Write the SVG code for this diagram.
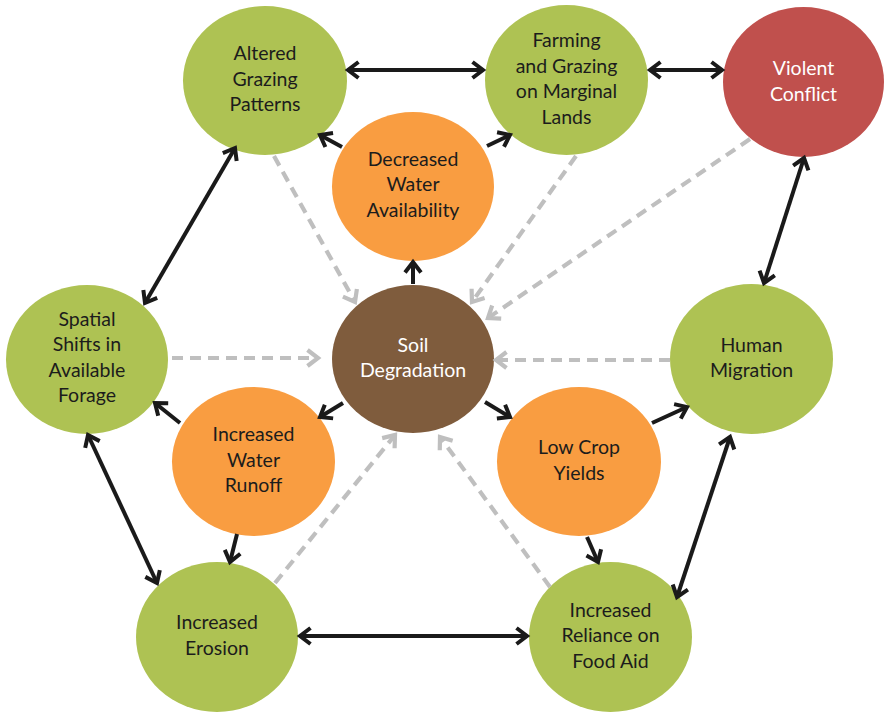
<svg xmlns="http://www.w3.org/2000/svg" width="884" height="712" viewBox="0 0 884 712">
<defs>
<style>
.g{fill:#aec253}
.o{fill:#f99d41}
.b{fill:#7f5c3d}
.r{fill:#c0504d}
text{font-family:Lato,"Liberation Sans",sans-serif;font-size:19.5px;text-anchor:middle}
.dk{fill:#1c1c1c}
.wt{fill:#ffffff}
.s{fill:none;stroke:#1a1a1a;stroke-width:4;marker-end:url(#ah)}
.d{marker-start:url(#ah)}
.gr{fill:none;stroke:#bfbfbf;stroke-width:4.2;stroke-dasharray:11 7;marker-end:url(#gh)}
</style>
<marker id="ah" markerUnits="userSpaceOnUse" markerWidth="24" markerHeight="24" viewBox="0 0 24 24" refX="17" refY="12" orient="auto-start-reverse">
<path d="M6.5,4 L17,12 L6.5,20" fill="none" stroke="#1a1a1a" stroke-width="4"/>
</marker>
<marker id="gh" markerUnits="userSpaceOnUse" markerWidth="24" markerHeight="24" viewBox="0 0 24 24" refX="17" refY="12" orient="auto">
<path d="M6.5,4 L17,12 L6.5,20" fill="none" stroke="#bfbfbf" stroke-width="4.2"/>
</marker>
</defs>
<rect width="884" height="712" fill="#ffffff"/>
<g id="altered-grazing">
<ellipse class="g" cx="265" cy="80.5" rx="82" ry="74.5"/>
<text class="dk" x="265" y="60">Altered</text>
<text class="dk" x="265" y="85.5">Grazing</text>
<text class="dk" x="265" y="111">Patterns</text>
</g>
<g id="farming-grazing">
<ellipse class="g" cx="566.5" cy="80" rx="81.5" ry="75"/>
<text class="dk" x="566.5" y="47">Farming</text>
<text class="dk" x="566.5" y="72.5">and Grazing</text>
<text class="dk" x="566.5" y="98">on Marginal</text>
<text class="dk" x="566.5" y="123.5">Lands</text>
</g>
<g id="violent-conflict">
<ellipse class="r" cx="803.5" cy="82" rx="80.5" ry="75"/>
<text class="wt" x="803.5" y="75">Violent</text>
<text class="wt" x="803.5" y="100.5">Conflict</text>
</g>
<g id="decreased-water">
<ellipse class="o" cx="413" cy="186.5" rx="81" ry="74.5"/>
<text class="dk" x="413" y="165.5">Decreased</text>
<text class="dk" x="413" y="191">Water</text>
<text class="dk" x="413" y="216.5">Availability</text>
</g>
<g id="spatial-shifts">
<ellipse class="g" cx="87" cy="359.5" rx="81" ry="74.5"/>
<text class="dk" x="87" y="325.5">Spatial</text>
<text class="dk" x="87" y="351">Shifts in</text>
<text class="dk" x="87" y="376.5">Available</text>
<text class="dk" x="87" y="402">Forage</text>
</g>
<g id="soil-degradation">
<ellipse class="b" cx="413" cy="359" rx="81" ry="74"/>
<text class="wt" x="413" y="351.5">Soil</text>
<text class="wt" x="413" y="377">Degradation</text>
</g>
<g id="human-migration">
<ellipse class="g" cx="751.5" cy="359" rx="81.5" ry="75"/>
<text class="dk" x="751.5" y="351.5">Human</text>
<text class="dk" x="751.5" y="377">Migration</text>
</g>
<g id="increased-runoff">
<ellipse class="o" cx="253.5" cy="461.5" rx="81.5" ry="74.5"/>
<text class="dk" x="253.5" y="441">Increased</text>
<text class="dk" x="253.5" y="466.5">Water</text>
<text class="dk" x="253.5" y="492">Runoff</text>
</g>
<g id="low-crop-yields">
<ellipse class="o" cx="579" cy="461.5" rx="82" ry="74.5"/>
<text class="dk" x="579" y="454">Low Crop</text>
<text class="dk" x="579" y="479.5">Yields</text>
</g>
<g id="increased-erosion">
<ellipse class="g" cx="217" cy="637" rx="81" ry="75"/>
<text class="dk" x="217" y="629">Increased</text>
<text class="dk" x="217" y="654.5">Erosion</text>
</g>
<g id="food-aid">
<ellipse class="g" cx="610.5" cy="637" rx="81.5" ry="75"/>
<text class="dk" x="610.5" y="616.5">Increased</text>
<text class="dk" x="610.5" y="642">Reliance on</text>
<text class="dk" x="610.5" y="667.5">Food Aid</text>
</g>
<g id="connectors">
<path class="s d" d="M348,70 L483,70"/>
<path class="s d" d="M650,70 L722,70"/>
<path class="s d" d="M804,158 L764,283"/>
<path class="s d" d="M235,148 L145,303"/>
<path class="s d" d="M88,435 L157,583"/>
<path class="s d" d="M300,636 L527,636"/>
<path class="s d" d="M677,597 L730,437"/>
<path class="s" d="M342,147 L320,135"/>
<path class="s" d="M487,146 L510,135"/>
<path class="s" d="M413,284 L413,262"/>
<path class="s" d="M343,403 L320,417"/>
<path class="s" d="M180,423 L155,403"/>
<path class="s" d="M237,534 L230,562"/>
<path class="s" d="M485,402 L510,417"/>
<path class="s" d="M652,423 L687,407"/>
<path class="s" d="M587,537 L598,562"/>
<path class="gr" d="M274,156 L355,302"/>
<path class="gr" d="M576,156 L472,302"/>
<path class="gr" d="M750,139 L488,318"/>
<path class="gr" d="M172,358 L318,358"/>
<path class="gr" d="M670,360 L496,360"/>
<path class="gr" d="M275,583 L395,435"/>
<path class="gr" d="M550,587 L440,437"/>
</g>
</svg>
